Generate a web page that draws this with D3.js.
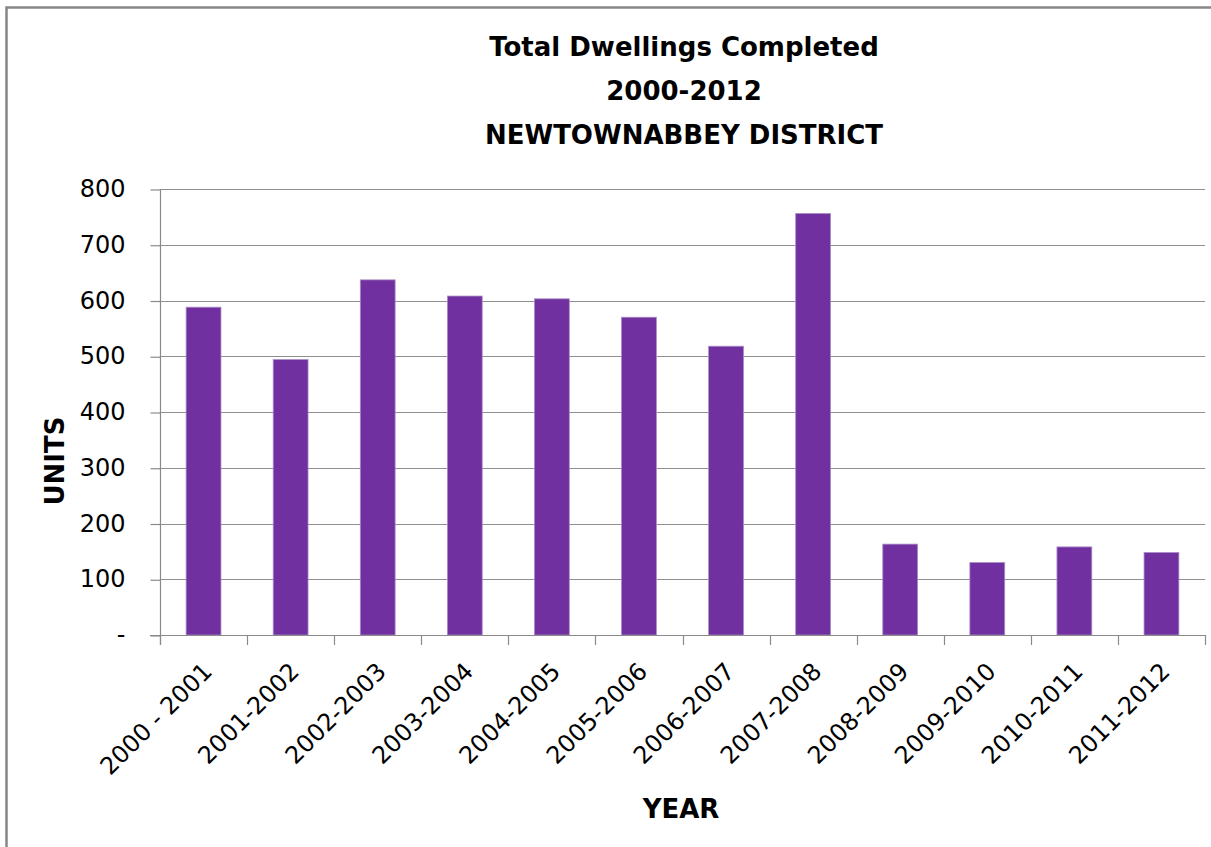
<!DOCTYPE html>
<html>
<head>
<meta charset="utf-8">
<script src="https://cdn.jsdelivr.net/npm/d3@7"></script>
<style>
  html, body { margin: 0; padding: 0; background: #fff; }
  svg { display: block; }
  text { font-family: "DejaVu Sans", sans-serif; fill: #000; }
</style>
</head>
<body>
<svg id="chart" width="1211" height="847"></svg>
<script>
// Dwellings completed per financial year, Newtownabbey district
const years = ["2000 - 2001", "2001-2002", "2002-2003", "2003-2004", "2004-2005", "2005-2006",
               "2006-2007", "2007-2008", "2008-2009", "2009-2010", "2010-2011", "2011-2012"];
const units = [588, 494, 637, 608, 603, 570, 518, 756, 163, 130, 158, 148];
const yTicks = [0, 100, 200, 300, 400, 500, 600, 700, 800];
const titleLines = ["Total Dwellings Completed", "2000-2012", "NEWTOWNABBEY DISTRICT"];

const W = 1211, H = 847;
const plot = { left: 160, right: 1205, top: 189, bottom: 635 };
const FONT = "'DejaVu Sans', sans-serif";
const svg = d3.select("#chart");

svg.append("rect").attr("width", W).attr("height", H).attr("fill", "#fff");

// chart frame (continues past the right and bottom edges)
svg.append("rect")
  .attr("x", 6.5).attr("y", 7.5)
  .attr("width", W + 20).attr("height", H + 20)
  .attr("fill", "none").attr("stroke", "#878787").attr("stroke-width", 2.5);

const x = d3.scaleBand().domain(years)
  .range([plot.left, plot.right]).paddingInner(0.6).paddingOuter(0.3);
const y = d3.scaleLinear().domain([0, 800]).range([plot.bottom, plot.top]);

// horizontal gridlines
svg.append("g").selectAll("line").data(yTicks.filter(d => d > 0)).join("line")
  .attr("x1", plot.left).attr("x2", plot.right)
  .attr("y1", d => Math.round(y(d)) + 0.5).attr("y2", d => Math.round(y(d)) + 0.5)
  .attr("stroke", "#8f8f8f").attr("stroke-width", 1.2);

// bars
svg.append("g").selectAll("rect").data(units).join("rect")
  .attr("x", (d, i) => x(years[i]))
  .attr("width", x.bandwidth())
  .attr("y", d => y(d))
  .attr("height", d => y(0) - y(d))
  .attr("fill", "#7030a0")
  .attr("stroke", "#a98cc6").attr("stroke-width", 0.8);

// y axis
const yAxis = d3.axisLeft(y).tickValues(yTicks).tickSize(10).tickPadding(25)
  .tickFormat(d => d === 0 ? "-" : d3.format("d")(d));
const gy = svg.append("g").attr("transform", `translate(${plot.left + 0.5},0)`).call(yAxis);
gy.select(".domain").remove();
gy.selectAll(".tick line").attr("stroke", "#8a8a8a").attr("stroke-width", 1.2)
  .attr("transform", "translate(0,0.5)");
gy.selectAll(".tick text")
  .attr("font-size", null).attr("font-family", null)
  .style("font-size", "24px").style("font-family", FONT).attr("fill", "#111");
svg.append("line")
  .attr("x1", plot.left + 0.5).attr("x2", plot.left + 0.5)
  .attr("y1", plot.top).attr("y2", plot.bottom + 10)
  .attr("stroke", "#8a8a8a").attr("stroke-width", 1.2);

// x axis: ticks sit on category boundaries
const bounds = years.map(d => x(d) - x.step() * x.paddingInner() / 2);
bounds[0] = plot.left;
bounds.push(plot.right);
svg.append("line")
  .attr("x1", plot.left - 10).attr("x2", plot.right)
  .attr("y1", plot.bottom + 0.5).attr("y2", plot.bottom + 0.5)
  .attr("stroke", "#8a8a8a").attr("stroke-width", 1.2);
svg.append("g").selectAll("line").data(bounds).join("line")
  .attr("x1", d => Math.round(d) + 0.5).attr("x2", d => Math.round(d) + 0.5)
  .attr("y1", plot.bottom).attr("y2", plot.bottom + 10)
  .attr("stroke", "#8a8a8a").attr("stroke-width", 1.2);

// rotated category labels
svg.append("g").selectAll("text").data(years).join("text")
  .attr("transform", d => `translate(${x(d) + x.bandwidth() / 2 + 4},${plot.bottom + 32}) rotate(-45)`)
  .attr("text-anchor", "end")
  .attr("dy", "0.35em")
  .style("font-size", "24px")
  .attr("fill", "#111")
  .text(d => d);

// title
svg.append("g").selectAll("text").data(titleLines).join("text")
  .attr("x", 684).attr("y", (d, i) => 56 + i * 44)
  .attr("text-anchor", "middle")
  .style("font-size", "26px").style("font-weight", "bold")
  .text(d => d);

// axis titles
svg.append("text")
  .attr("transform", "translate(64,461) rotate(-90)")
  .attr("text-anchor", "middle")
  .style("font-size", "26px").style("font-weight", "bold")
  .text("UNITS");
svg.append("text")
  .attr("x", 681).attr("y", 818)
  .attr("text-anchor", "middle")
  .style("font-size", "26px").style("font-weight", "bold")
  .text("YEAR");
</script>
</body>
</html>
